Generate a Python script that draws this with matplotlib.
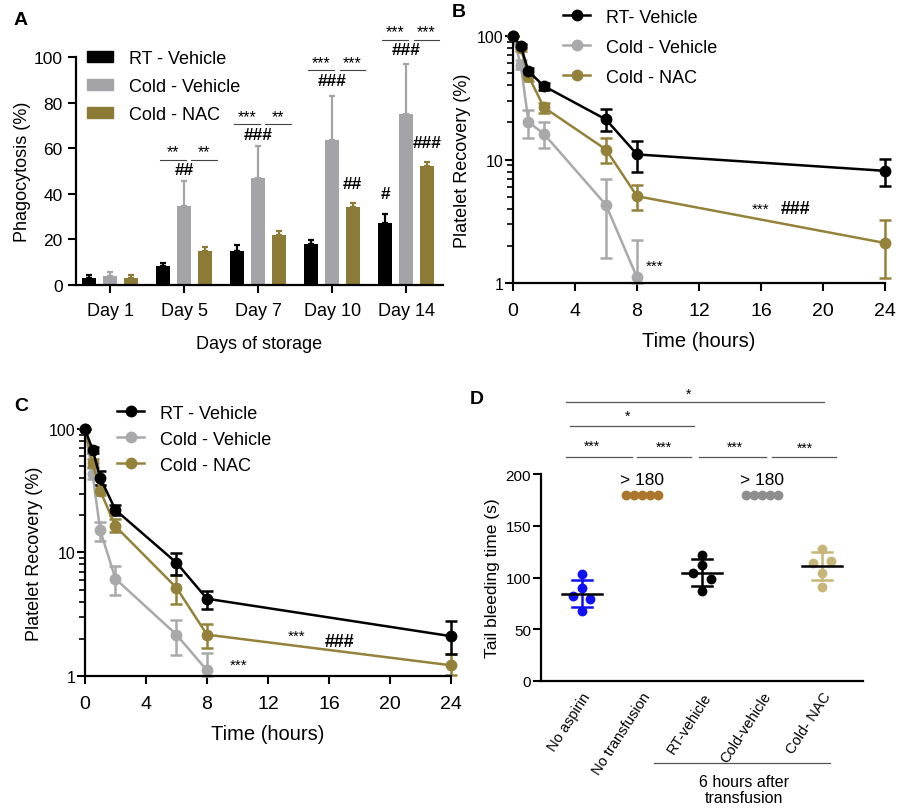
import numpy as np
import matplotlib
matplotlib.use("Agg")
import matplotlib.pyplot as plt
from matplotlib.patches import Patch
from matplotlib.lines import Line2D

plt.rcParams['font.family'] = ['Liberation Sans', 'DejaVu Sans']

# colours
BLACK = '#000000'
GREY = '#a3a3a8'
GOLD = '#8c7b36'
LGREY = '#a9a9ab'
LGOLD = '#94823a'

# ---------------- data: panel A (phagocytosis) ----------------
days = ['Day 1', 'Day 5', 'Day 7', 'Day 10', 'Day 14']
rt_mean = [3.2, 8.5, 15.1, 18.0, 27.1]
rt_err = [1.3, 1.0, 2.6, 1.8, 4.2]
cold_mean = [3.8, 34.8, 47.0, 63.8, 75.1]
cold_err = [2.1, 10.6, 14.0, 19.1, 22.0]
nac_mean = [3.2, 14.9, 22.0, 34.1, 52.1]
nac_err = [1.0, 1.9, 1.6, 1.9, 1.9]
# significance marks above groups: (group, line level, stars left, stars right, hashes)
sig_a = [(1, 55, '**', '**', '##'), (2, 70.5, '***', '**', '###'),
         (3, 94.4, '***', '***', '###'), (4, 107.6, '***', '***', '###')]
hash_a = [(3, 2, 44.4, '##'), (4, 0, 40, '#'), (4, 2, 62.4, '###')]

# ---------------- data: panel B (recovery) ----------------
b_t = [0, 0.5, 1, 2, 6, 8, 24]
b_rt = [100, 83, 51.7, 39.3, 21.1, 11.0, 8.1]
b_rt_lo = [0, 3, 3, 2.5, 4.1, 3.0, 1.95]
b_rt_hi = [0, 3, 3.5, 2.5, 4.7, 3.0, 2.0]
b_tc = [0, 0.5, 1, 2, 6, 8]
b_cold = [100, 58.6, 20.1, 16.1, 4.29, 1.11]
b_cold_lo = [0, 5, 5.2, 3.7, 2.69, 0.11]
b_cold_hi = [0, 5, 4.9, 4.0, 2.7, 1.12]
b_nac = [100, 80, 47.4, 26.4, 12.05, 5.05, 2.11]
b_nac_lo = [0, 4, 4, 2.4, 2.65, 1.15, 1.02]
b_nac_hi = [0, 4, 4, 2.1, 2.85, 1.22, 1.1]

# ---------------- data: panel C (recovery) ----------------
c_t = [0, 0.5, 1, 2, 6, 8, 24]
c_rt = [100, 68, 40.2, 22.1, 8.25, 4.22, 2.1]
c_rt_lo = [0, 4, 5.2, 2.1, 1.65, 0.76, 0.6]
c_rt_hi = [0, 4, 5.8, 2.2, 1.65, 0.68, 0.7]
c_tc = [0, 0.5, 1, 2, 6, 8]
c_cold = [100, 43.3, 15.1, 6.12, 2.16, 1.11]
c_cold_lo = [0, 4.3, 2.8, 1.63, 0.67, 0.11]
c_cold_hi = [0, 4.7, 2.7, 1.63, 0.69, 0.43]
c_nac = [100, 53, 31.7, 16.3, 5.18, 2.16, 1.22]
c_nac_lo = [0, 4, 2.7, 1.7, 1.33, 0.48, 0.2]
c_nac_hi = [0, 4, 3.3, 2.2, 1.42, 0.49, 0.3]

# ---------------- data: panel D (tail bleeding) ----------------
d_groups = ['No aspirin', 'No transfusion', 'RT-vehicle', 'Cold-vehicle', 'Cold- NAC']
d_no_aspirin = [103.2, 90.3, 82.3, 79.0, 67.7]
d_rt_vehicle = [121.9, 112.3, 104.8, 98.4, 86.5]
d_cold_nac = [128.0, 114.5, 115.5, 104.8, 91.3]
d_capped = [180, 180, 180, 180, 180]
jit_a = [0, 0, -1, 1, 0]
jit_b = [0, 0, -1, 1, 0]
jit_c = [0, -1, 1, 0, 0]
jit_row = [-2, -1, 0, 1, 2]

fig = plt.figure(figsize=(9, 8.12), dpi=100)

# ======================= A =======================
axA = fig.add_axes([0.0844, 0.6478, 0.408, 0.2808])
x = np.arange(len(days))
off = 0.28
w = 0.19
for dx, m, e, c in [(-off, rt_mean, rt_err, BLACK), (0, cold_mean, cold_err, GREY),
                    (off, nac_mean, nac_err, GOLD)]:
    axA.bar(x + dx, m, width=w, color=c)
    axA.errorbar(x + dx, m, yerr=[np.zeros(len(e)), e], fmt='none', ecolor=c,
                 elinewidth=1.6, capsize=2.5, capthick=1.6, clip_on=False)
axA.set_xlim(-0.46, 4.5)
axA.set_ylim(0, 100)
axA.set_yticks([0, 20, 40, 60, 80, 100])
axA.set_xticks(x)
axA.set_xticklabels(days, fontsize=13)
axA.tick_params(axis='y', labelsize=12.5, width=1.5, length=6)
axA.tick_params(axis='x', width=1.5, length=6, pad=6)
axA.set_ylabel('Phagocytosis (%)', fontsize=13, labelpad=2)
axA.set_xlabel('Days of storage', fontsize=13, labelpad=12)
for s in ['top', 'right']:
    axA.spines[s].set_visible(False)
for s in ['left', 'bottom']:
    axA.spines[s].set_linewidth(1.6)

for g, lev, s1, s2, hs in sig_a:
    axA.plot([g - 0.32, g + 0.02], [lev, lev], color='#444444', lw=0.8, clip_on=False)
    axA.plot([g + 0.10, g + 0.44], [lev, lev], color='#444444', lw=0.8, clip_on=False)
    axA.text(g - 0.15, lev + 3.3, s1, ha='center', va='center', fontsize=11.5, clip_on=False)
    axA.text(g + 0.27, lev + 3.3, s2, ha='center', va='center', fontsize=11.5, clip_on=False)
    axA.text(g, lev - 4.5, hs, ha='center', va='center', fontsize=12.5,
             fontweight='bold', clip_on=False)
for g, k, yv, hs in hash_a:
    axA.text(g + (k - 1) * off, yv, hs, ha='center', va='center', fontsize=12.5,
             fontweight='bold')

hA = [Patch(color=BLACK), Patch(color=GREY), Patch(color=GOLD)]
fig.legend(hA, ['RT - Vehicle', 'Cold - Vehicle', 'Cold - NAC'], loc='upper left',
           bbox_to_anchor=(0.0967, 0.9376), frameon=False, fontsize=13,
           borderpad=0, borderaxespad=0, handlelength=1.45, handleheight=0.55,
           handletextpad=0.85, labelspacing=0.62)


def recovery(ax, t, rt, rt_lo, rt_hi, tc, cold, cold_lo, cold_hi, nac, nac_lo, nac_hi):
    for tt, v, lo, hi, c in [(tc, cold, cold_lo, cold_hi, LGREY),
                             (t, nac, nac_lo, nac_hi, LGOLD),
                             (t, rt, rt_lo, rt_hi, BLACK)]:
        ax.errorbar(tt, v, yerr=[lo, hi], color=c, lw=1.8, marker='o', ms=7.5,
                    capsize=4, capthick=1.8, elinewidth=1.8, clip_on=False)
    ax.set_yscale('log')
    ax.set_ylim(1, 100)
    ax.set_xlim(0, 24)
    ax.set_xticks([0, 4, 8, 12, 16, 20, 24])
    ax.set_yticks([1, 10, 100])
    ax.set_yticklabels(['1', '10', '100'])
    ax.tick_params(axis='y', which='major', labelsize=11.5, width=1.5, length=6, pad=1)
    ax.tick_params(axis='y', which='minor', width=1.2, length=4)
    ax.tick_params(axis='x', labelsize=14, width=1.5, length=6, pad=8)
    ax.set_xlabel('Time (hours)', fontsize=14.5, labelpad=8)
    ax.set_ylabel('Platelet Recovery (%)', fontsize=13, labelpad=4)
    for s in ['top', 'right']:
        ax.spines[s].set_visible(False)
    for s in ['left', 'bottom']:
        ax.spines[s].set_linewidth(1.6)


# ======================= B =======================
axB = fig.add_axes([0.570, 0.6502, 0.4133, 0.3042])
recovery(axB, b_t, b_rt, b_rt_lo, b_rt_hi, b_tc, b_cold, b_cold_lo, b_cold_hi,
         b_nac, b_nac_lo, b_nac_hi)
axB.text(9.15, 1.38, '***', ha='center', va='center', fontsize=11)
axB.text(16.0, 4.0, '***', ha='center', va='center', fontsize=11)
axB.text(18.2, 4.0, '###', ha='center', va='center', fontsize=13, fontweight='bold')

# ======================= C =======================
axC = fig.add_axes([0.0944, 0.1663, 0.4067, 0.3042])
recovery(axC, c_t, c_rt, c_rt_lo, c_rt_hi, c_tc, c_cold, c_cold_lo, c_cold_hi,
         c_nac, c_nac_lo, c_nac_hi)
axC.text(10.05, 1.24, '***', ha='center', va='center', fontsize=11)
axC.text(13.9, 2.1, '***', ha='center', va='center', fontsize=11)
axC.text(16.7, 1.9, '###', ha='center', va='center', fontsize=13, fontweight='bold')

labels_bc = ['RT - Vehicle', 'Cold - Vehicle', 'Cold - NAC']
for lab0, anchor, sp in [('RT- Vehicle', (0.6256, 0.988), 0.72),
                         ('RT - Vehicle', (0.130, 0.5005), 0.5)]:
    hs = [Line2D([], [], color=c, marker='o', ms=7.5, lw=1.8) for c in (BLACK, LGREY, LGOLD)]
    fig.legend(hs, [lab0] + labels_bc[1:], loc='upper left', bbox_to_anchor=anchor,
               frameon=False, fontsize=13, borderpad=0, borderaxespad=0,
               handlelength=1.5, handletextpad=0.9, labelspacing=sp)

# ======================= D =======================
axD = fig.add_axes([0.601, 0.1601, 0.3578, 0.2549])
jw = 0.145
for i, vals, jit, c in [(0, d_no_aspirin, jit_a, '#1010f5'), (2, d_rt_vehicle, jit_b, BLACK),
                        (4, d_cold_nac, jit_c, '#c7b67a')]:
    axD.scatter(i + np.array(jit) * jw, vals, s=50, color=c, zorder=3, linewidths=0)
    m = np.mean(vals)
    sd = np.std(vals, ddof=1)
    axD.plot([i - 0.33, i + 0.33], [m, m], color=BLACK, lw=1.8, zorder=4)
    axD.plot([i, i], [m - sd, m + sd], color=c, lw=1.8, zorder=2)
    for yy in (m - sd, m + sd):
        axD.plot([i - 0.17, i + 0.17], [yy, yy], color=c, lw=1.8, zorder=2)
for i, c in [(1, '#a9762c'), (3, '#8e8e8e')]:
    axD.scatter(i + np.array(jit_row) * 0.135, d_capped, s=50, color=c, zorder=3,
                linewidths=0, clip_on=False)
    axD.text(i, 195, '> 180', ha='center', va='center', fontsize=12.5)
axD.set_xlim(-0.68, 4.68)
axD.set_ylim(0, 200)
axD.set_yticks([0, 50, 100, 150, 200])
axD.set_xticks(range(5))
axD.set_xticklabels(d_groups, rotation=57, ha='right', rotation_mode='anchor', fontsize=10.5)
axD.tick_params(axis='x', length=0, pad=6)
axD.tick_params(axis='y', labelsize=11, width=1.5, length=6, pad=1)
axD.set_ylabel('Tail bleeding time (s)', fontsize=12.5, labelpad=4)
for s in ['top', 'right']:
    axD.spines[s].set_visible(False)
for s in ['left', 'bottom']:
    axD.spines[s].set_linewidth(1.6)

sig_d = [(-0.27, 4.03, 269.3, 1.77, 278, '*'), (-0.19, 1.87, 246.7, 0.76, 256.3, '*'),
         (-0.27, 0.83, 216.1, 0.17, 227, '***'), (0.92, 1.82, 216.1, 1.37, 226, '***'),
         (1.95, 3.07, 216.1, 2.55, 226, '***'), (3.17, 4.23, 216.1, 3.72, 225, '***')]
for x0, x1, yl, xs, ys, st in sig_d:
    axD.plot([x0, x1], [yl, yl], color='#555555', lw=0.9, clip_on=False)
    axD.text(xs, ys, st, ha='center', va='center', fontsize=10, clip_on=False)
axD.plot([1.2, 4.13], [-79.2, -79.2], color='#555555', lw=0.9, clip_on=False)
axD.text(2.7, -105, '6 hours after\ntransfusion', ha='center', va='center',
         fontsize=11.5, linespacing=1.1, clip_on=False)

# panel letters
for lab, xx, yy in [('A', 0.015, 0.985), ('B', 0.502, 0.995), ('C', 0.016, 0.510),
                    ('D', 0.5215, 0.518)]:
    fig.text(xx, yy, lab, fontsize=14, fontweight='bold', ha='left', va='top')

fig.savefig('out.png', dpi=100)
